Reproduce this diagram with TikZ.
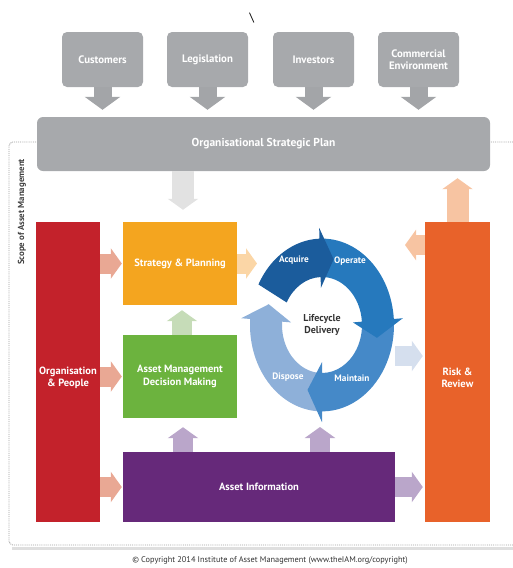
\documentclass[tikz,border=0pt]{standalone}
\usepackage{fontspec}
\setmainfont{PT Sans}
\usetikzlibrary{arrows.meta}

\definecolor{panelgray}{HTML}{A7A9AC}
\definecolor{stemgray}{HTML}{A3A5A8}
\definecolor{palegray}{HTML}{E2E2E2}
\definecolor{orgred}{HTML}{C3222B}
\definecolor{stratorange}{HTML}{F4A51F}
\definecolor{decisgreen}{HTML}{6CB33E}
\definecolor{infopurple}{HTML}{66297A}
\definecolor{riskorange}{HTML}{E8622A}
\definecolor{salmon}{HTML}{E9A894}
\definecolor{peach}{HTML}{F7C4A2}
\definecolor{lightpeach}{HTML}{FBD6A6}
\definecolor{lightgreen}{HTML}{C6DCB8}
\definecolor{lilac}{HTML}{BAA6CA}
\definecolor{paleblue}{HTML}{D5DFEE}
\definecolor{acquireblue}{HTML}{1B5C9C}
\definecolor{operateblue}{HTML}{2679BD}
\definecolor{maintainblue}{HTML}{4589C8}
\definecolor{disposeblue}{HTML}{8EB0D9}

\tikzstyle{topbox}=[rounded corners=5pt, fill=panelgray, text=white, align=center, inner sep=0pt, font=\bfseries\fontsize{10.8}{12.5}\selectfont]
\tikzstyle{areabox}=[text=white, align=center, inner sep=0pt, font=\bfseries\fontsize{10.5}{12.5}\selectfont]
\tikzstyle{flow}=[line width=20pt, -{Triangle[length=11pt,width=30pt]}]
\tikzstyle{feed}=[line width=18pt, -{Triangle[length=13pt,width=35pt]}, draw=stemgray]
\tikzstyle{stagetext}=[text=white, font=\bfseries\fontsize{9.3}{11}\selectfont]

% one quarter of the lifecycle ring: colour, tail angle, head base angle, tip angle
\newcommand{\ringarrow}[4]{%
  \fill[#1] (#2:72) arc[start angle=#2, end angle=#3, radius=72]
    -- (#3:81) -- (#4:56) -- (#3:31) -- (#3:40)
    arc[start angle=#3, end angle=#2, radius=40] -- cycle;}

\begin{document}
\begin{tikzpicture}[x=1pt,y=-1pt]
\useasboundingbox (0,0) rectangle (512,568);

\node[font=\fontsize{14}{14}\selectfont] (ytail) at (67,-6) {y};
\node[font=\fontsize{12}{12}\selectfont] (bslash) at (252,18) {\textbackslash};

% dotted scope frame
\draw[gray!25, line width=2.5pt] (12,548.5) -- (530,548.5);
\draw[gray!75, densely dotted, line width=0.9pt, rounded corners=4pt] (530,142) -| (9,545) -- (530,545);
\node[rotate=90, text=black!75, font=\bfseries\fontsize{8.8}{10}\selectfont] (scope) at (22,212) {Scope of Asset Management};

% stakeholders
\node[topbox, minimum width=81pt, minimum height=55pt] (cust) at (102.5,59.5) {Customers};
\node[topbox, minimum width=81pt, minimum height=55pt] (legis) at (207.5,59.5) {Legislation};
\node[topbox, minimum width=81pt, minimum height=55pt] (invest) at (313.5,59.5) {Investors};
\node[topbox, minimum width=81pt, minimum height=55pt] (comm) at (418.5,59.5) {Commercial\\Environment};

\node[topbox, rounded corners=6pt, minimum width=453pt, minimum height=54pt, font=\bfseries\fontsize{11.5}{13}\selectfont] (plan) at (263.5,144) {Organisational Strategic Plan};

\draw[feed, shorten >=7pt] (cust.south) -- (cust.south |- plan.north);
\draw[feed, shorten >=7pt] (legis.south) -- (legis.south |- plan.north);
\draw[feed, shorten >=7pt] (invest.south) -- (invest.south |- plan.north);
\draw[feed, shorten >=7pt] (comm.south) -- (comm.south |- plan.north);

% subject groups
\node[areabox, fill=orgred, minimum width=64pt, minimum height=300pt] (org) at (68,372) {};
\node[areabox] (orglabel) at (68,378) {Organisation\\\& People};
\node[areabox, fill=stratorange, minimum width=114pt, minimum height=83pt] (strat) at (180,263.5) {Strategy \& Planning};
\node[areabox, fill=decisgreen, minimum width=114pt, minimum height=83pt] (decis) at (180,376.5) {Asset Management\\Decision Making};
\node[areabox, fill=infopurple, minimum width=272pt, minimum height=70pt] (info) at (259,487) {Asset Information};
\node[areabox, fill=riskorange, minimum width=65pt, minimum height=300pt] (risk) at (457.5,372) {};
\node[areabox] (risklabel) at (457.5,378) {Risk \&\\Review};

% lifecycle ring
\coordinate (cyc) at (322,325);
\begin{scope}[shift={(cyc)}, x=1pt, y=1.2pt]
  \ringarrow{disposeblue}{-90}{-184}{-198}
  \ringarrow{maintainblue}{4}{-90}{-105}
  \ringarrow{operateblue}{92}{4}{-11}
  \ringarrow{acquireblue}{152}{92}{78}
\end{scope}
\node[stagetext] (acquire) at (294,260) {Acquire};
\node[stagetext] (operate) at (350,261) {Operate};
\node[stagetext] (maintain) at (352,378) {Maintain};
\node[stagetext] (dispose) at (288,377) {Dispose};
\node[align=center, text=black!80, font=\bfseries\fontsize{10}{11.5}\selectfont] (life) at (cyc) {Lifecycle\\Delivery};

\coordinate (stratout) at (257,263.5);
\coordinate (riskin) at (405,245);
\coordinate (cycin) at (320,427);
\coordinate (cycout) at (395,356);

% flows between the groups
\draw[flow, draw=palegray, line width=22pt, shorten >=12pt] ([xshift=3pt]strat.north |- plan.south) -- ([xshift=3pt]strat.north);
\draw[flow, draw=peach, line width=22pt, shorten >=7pt] (risk.north) -- (risk.north |- plan.south);
\draw[flow, draw=peach] (risk.west |- riskin) -- (riskin);
\draw[flow, draw=salmon, shorten >=1pt] (org.east |- strat.west) -- (strat.west);
\draw[flow, draw=salmon, shorten >=1pt] (org.east |- decis.west) -- (decis.west);
\draw[flow, draw=salmon, shorten >=1pt] (org.east |- info.west) -- (info.west);
\draw[flow, draw=lightpeach] (strat.east) -- (stratout);
\draw[flow, draw=lightgreen, shorten >=5pt] ([xshift=2pt]decis.north) -- ([xshift=2pt]strat.south);
\draw[flow, draw=lilac, shorten >=9pt] ([xshift=3pt]decis.south |- info.north) -- ([xshift=3pt]decis.south);
\draw[flow, draw=lilac] (cycin |- info.north) -- (cycin);
\draw[flow, draw=lilac, shorten >=2pt] (info.east) -- (risk.west |- info.east);
\draw[flow, draw=paleblue, shorten >=2pt] (cycout) -- (cycout -| risk.west);

\node[text=black!80, font=\fontsize{8.3}{10}\selectfont] (copy) at (270,560) {\textcopyright{} Copyright 2014 Institute of Asset Management (www.theIAM.org/copyright)};
\end{tikzpicture}
\end{document}
